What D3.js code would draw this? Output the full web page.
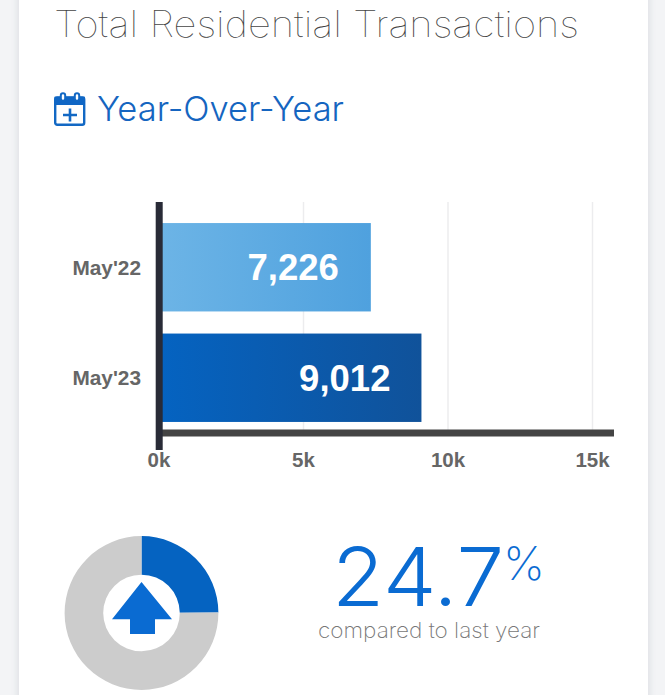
<!DOCTYPE html>
<html><head><meta charset="utf-8">
<script src="https://cdn.jsdelivr.net/npm/d3@7/dist/d3.min.js"></script>
<style>html,body{margin:0;padding:0;background:#f3f4f6;overflow:hidden}svg{display:block}</style>
</head><body><script>
const categories = ["May'22", "May'23"];
const values = [7226, 9012];
const tickValues = [0, 5000, 10000, 15000];
const changeLabel = "24.7";
const donutShares = [24.9, 75.1];
const chartTitle = "Total Residential Transactions";
const sectionTitle = "Year-Over-Year";
const caption = "compared to last year";

const thin = "Inter, 'Noto Sans', sans-serif";
const arial = "'Liberation Sans', Arial, sans-serif";
const svg = d3.select("body").append("svg").attr("width", 665).attr("height", 695);
const defs = svg.append("defs");
const blur = defs.append("filter").attr("id", "sh").attr("x", "-5%").attr("width", "110%");
blur.append("feGaussianBlur").attr("stdDeviation", 3);
[["g0", "#6cb4e6", "#4fa1de"], ["g1", "#0563c1", "#10529a"]].forEach(([id, a, b]) => {
  const g = defs.append("linearGradient").attr("id", id);
  g.append("stop").attr("offset", 0).attr("stop-color", a);
  g.append("stop").attr("offset", 1).attr("stop-color", b);
});

svg.append("rect").attr("x", 17).attr("y", -10).attr("width", 633).attr("height", 720).attr("fill", "#dfe1e5").attr("filter", "url(#sh)");
svg.append("rect").attr("x", 19).attr("y", -10).attr("width", 629).attr("height", 720).attr("fill", "#fff");

svg.append("text").attr("x", 54).attr("y", 37).attr("font-family", thin).attr("font-weight", 100)
  .attr("font-size", 36).attr("fill", "#444").attr("textLength", 525).attr("lengthAdjust", "spacingAndGlyphs").text(chartTitle);
svg.append("text").attr("x", 97).attr("y", 121).attr("font-family", thin).attr("font-weight", 300)
  .attr("font-size", 34).attr("fill", "#1565c0").attr("textLength", 247).attr("lengthAdjust", "spacingAndGlyphs").text(sectionTitle);

// calendar icon
const ic = svg.append("g").attr("transform", "translate(54,92)").attr("fill", "none").attr("stroke", "#1268c4");
ic.append("rect").attr("x", 1.2).attr("y", 5.5).attr("width", 29).attr("height", 27.2).attr("rx", 2).attr("stroke-width", 2.4);
ic.append("path").attr("d", "M0.5 4.7H30.8V13H0.5Z").attr("fill", "#0f66c5").attr("stroke", "none");
ic.selectAll("rect.ring").data([9, 23]).join("rect").attr("class", "ring")
  .attr("x", d => d - 2.2).attr("y", 1.2).attr("width", 4.4).attr("height", 7.5).attr("rx", 2.2)
  .attr("fill", "#fff").attr("stroke-width", 2);
ic.append("path").attr("d", "M9 23H23M16 16.5V29.5").attr("stroke-width", 2.6);

// bars
const x = d3.scaleLinear().domain([0, 15000]).range([159, 592.5]);
const y = d3.scaleBand().domain(categories).range([212, 433]).paddingInner(0.2).paddingOuter(0.1);
const barY = d => y(d);

svg.append("g").selectAll("line").data(tickValues.slice(1)).join("line")
  .attr("x1", d => x(d)).attr("x2", d => x(d)).attr("y1", 202).attr("y2", 430)
  .attr("stroke", "#ececee").attr("stroke-width", 1.5);

svg.append("g").selectAll("rect").data(values).join("rect")
  .attr("x", x(0) + 3).attr("y", (d, i) => barY(categories[i]))
  .attr("width", d => x(d) - x(0) - (d > 8000 ? 1 : 0)).attr("height", y.bandwidth())
  .attr("fill", (d, i) => `url(#g${i})`);

svg.append("g").selectAll("text").data(values).join("text")
  .attr("x", d => x(d) - 29).attr("y", (d, i) => barY(categories[i]) + y.bandwidth() / 2 + 13)
  .attr("text-anchor", "end").attr("font-family", arial).attr("font-weight", 700).attr("font-size", 36.5)
  .attr("fill", "#fff").text(d3.format(","));

svg.append("rect").attr("x", 156).attr("y", 429.5).attr("width", 458).attr("height", 7).attr("fill", "#444");
svg.append("rect").attr("x", 155.7).attr("y", 202).attr("width", 7).attr("height", 248).attr("fill", "#292b37");

svg.append("g").selectAll("text").data(categories).join("text")
  .attr("x", 141).attr("y", d => barY(d) + y.bandwidth() / 2 + 7.5)
  .attr("text-anchor", "end").attr("font-family", arial).attr("font-weight", 700).attr("font-size", 20.8)
  .attr("fill", "#666").text(d => d);

svg.append("g").selectAll("text").data(tickValues).join("text")
  .attr("x", d => x(d)).attr("y", 467).attr("text-anchor", "middle")
  .attr("font-family", arial).attr("font-weight", 700).attr("font-size", 20.5).attr("fill", "#666")
  .text(d => (d / 1000) + "k");

// donut
const donut = svg.append("g").attr("transform", "translate(141.5,613)");
const pie = d3.pie().sort(null)(donutShares);
const arc = d3.arc().innerRadius(38.3).outerRadius(76.9);
donut.selectAll("path.s").data(pie).join("path").attr("d", arc).attr("fill", (d, i) => i ? "#cccccc" : "#0563c1");
donut.append("path").attr("d", "M0-31L30.5 6.3H13.5V21H-11.5V6.3H-29.5Z").attr("fill", "#0a6bd2");

// big number
svg.append("text").attr("x", 332).attr("y", 606).attr("font-family", thin).attr("font-weight", 350)
  .attr("font-size", 81).attr("fill", "#0a6bd2").attr("textLength", 172).attr("lengthAdjust", "spacingAndGlyphs").text(changeLabel);
svg.append("text").attr("x", 503).attr("y", 580).attr("font-family", thin).attr("font-weight", 200)
  .attr("font-size", 47).attr("fill", "#0a6bd2").attr("textLength", 42).attr("lengthAdjust", "spacingAndGlyphs").text("%");
svg.append("text").attr("x", 318).attr("y", 638).attr("font-family", thin).attr("font-weight", 200)
  .attr("font-size", 21).attr("fill", "#777").attr("textLength", 222).attr("lengthAdjust", "spacingAndGlyphs").text(caption);
</script></body></html>
